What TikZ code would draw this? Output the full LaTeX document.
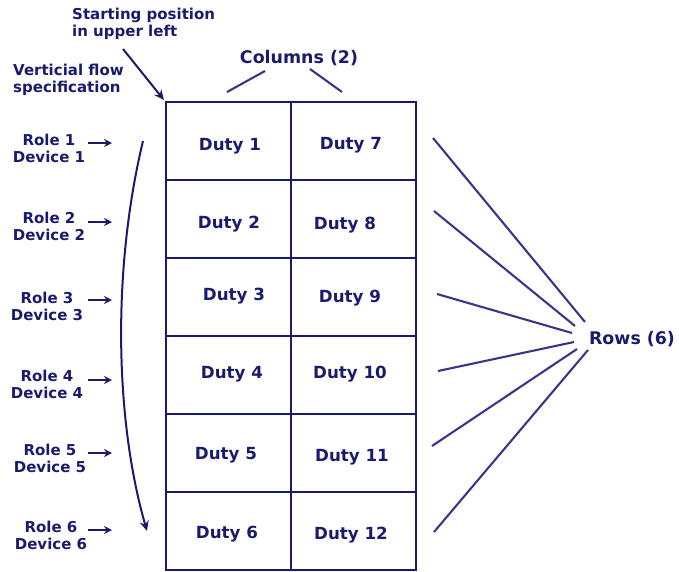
\documentclass[tikz,border=0pt]{standalone}
\usepackage{fontspec}
\setmainfont{DejaVu Sans}
\usetikzlibrary{arrows.meta}
\definecolor{txt}{RGB}{26,26,110}
\definecolor{ln}{RGB}{55,55,135}
\tikzset{
  lbl/.style={text=txt, font=\bfseries\fontsize{15}{17}\selectfont, inner sep=0pt, align=center},
  lbll/.style={text=txt, font=\bfseries\fontsize{15}{17}\selectfont, inner sep=0pt, align=left, anchor=west},
  duty/.style={text=txt, font=\bfseries\fontsize{16.7}{19}\selectfont, inner sep=0pt},
  big/.style={text=txt, font=\bfseries\fontsize{17.4}{20}\selectfont, inner sep=0pt},
  gridln/.style={draw=txt, line width=2.2pt},
  fan/.style={draw=ln, line width=2.1pt},
  arr/.style={draw=txt, line width=2pt, -{Stealth[length=10pt,width=9pt]}},
  sarr/.style={draw=txt, line width=1.8pt, -{Stealth[length=8pt,width=8pt]}}
}
\begin{document}
\begin{tikzpicture}[x=1pt,y=-1pt]
\useasboundingbox (0,0) rectangle (679,571);
% grid
\coordinate (g00) at (164,100);
\draw[gridln] (166,102) rectangle (416,570);
\draw[gridln] (291,102) -- (291,570);
\foreach \y in {180,258,336,414,492} \draw[gridln] (166,\y) -- (416,\y);
% duties
\node[duty] (d1) at (230,146) {Duty 1};
\node[duty] (d2) at (229,224) {Duty 2};
\node[duty] (d3) at (234,296) {Duty 3};
\node[duty] (d4) at (232,374) {Duty 4};
\node[duty] (d5) at (226,455) {Duty 5};
\node[duty] (d6) at (227,534) {Duty 6};
\node[duty] (d7) at (351,145) {Duty 7};
\node[duty] (d8) at (345,225) {Duty 8};
\node[duty] (d9) at (350,298) {Duty 9};
\node[duty] (d10) at (350,374) {Duty 10};
\node[duty] (d11) at (352,457) {Duty 11};
\node[duty] (d12) at (351,535) {Duty 12};
% top labels
\node[lbll] (start) at (72,24) {Starting position\\in upper left};
\node[lbll] (vert) at (13,80) {Verticial flow\\specification};
\node[big] (cols) at (299,58) {Columns (2)};
\node[big] (rows) at (632,339) {Rows (6)};
% start arrow
\coordinate (sa) at (123,49);
\draw[arr] (sa) -- (g00);
% columns lines
\coordinate (c1a) at (265,71); \coordinate (c1b) at (227,92);
\coordinate (c2a) at (310,69); \coordinate (c2b) at (342,92);
\draw[fan] (c1a) -- (c1b);
\draw[fan] (c2a) -- (c2b);
% role labels
\node[lbl] (r1) at (49,148) {Role 1\\Device 1};
\node[lbl] (r2) at (49,226) {Role 2\\Device 2};
\node[lbl] (r3) at (47,306) {Role 3\\Device 3};
\node[lbl] (r4) at (47,384) {Role 4\\Device 4};
\node[lbl] (r5) at (50,458) {Role 5\\Device 5};
\node[lbl] (r6) at (51,535) {Role 6\\Device 6};
\foreach \i/\y in {1/143,2/222,3/300,4/380,5/453,6/530}{
  \coordinate (ra\i) at (88,\y);
  \coordinate (rb\i) at (112,\y);
  \draw[sarr] (ra\i) -- (rb\i);
}
% vertical flow curve
\coordinate (vf1) at (143,141);
\coordinate (vf2) at (147,531);
\draw[arr] (vf1) .. controls (112,270) and (115,420) .. (vf2);
% rows fan
\coordinate (f1a) at (433,138); \coordinate (f1b) at (585,322);
\coordinate (f2a) at (434,211); \coordinate (f2b) at (575,326);
\coordinate (f3a) at (437,294); \coordinate (f3b) at (572,333);
\coordinate (f4a) at (438,371); \coordinate (f4b) at (574,342);
\coordinate (f5a) at (432,446); \coordinate (f5b) at (577,349);
\coordinate (f6a) at (434,532); \coordinate (f6b) at (588,350);
\foreach \i in {1,...,6} \draw[fan] (f\i a) -- (f\i b);
\end{tikzpicture}
\end{document}
